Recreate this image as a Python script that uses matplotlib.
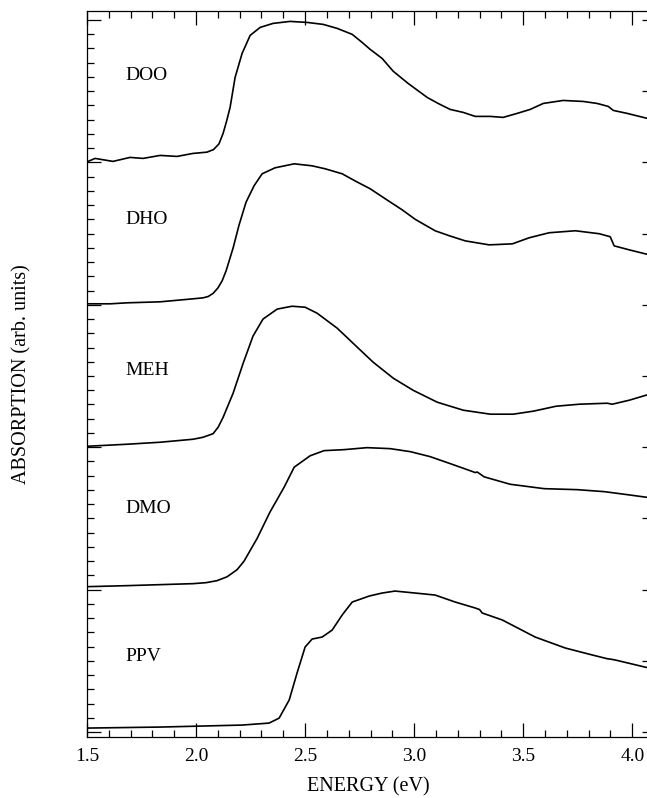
import numpy as np
import matplotlib
matplotlib.use("Agg")
import matplotlib.pyplot as plt
from matplotlib.ticker import MultipleLocator, NullFormatter

plt.rcParams['font.family'] = ['Liberation Serif', 'DejaVu Serif']

# ==========================================
# Data (energy in eV, absorption relative to each panel's baseline)
# ==========================================
doo_e = [1.505, 1.537, 1.619, 1.697, 1.757, 1.835, 1.913, 1.986, 2.050, 2.080,
         2.105, 2.124, 2.140, 2.156, 2.179, 2.211, 2.248, 2.294, 2.353, 2.431,
         2.509, 2.583, 2.647, 2.716, 2.761, 2.798, 2.853, 2.904, 2.972, 3.060,
         3.110, 3.165, 3.225, 3.280, 3.349, 3.408, 3.472, 3.532, 3.592, 3.683,
         3.775, 3.839, 3.890, 3.913, 3.977, 4.069]
doo_a = [0.007, 0.028, 0.007, 0.035, 0.028, 0.049, 0.042, 0.063, 0.072, 0.090,
         0.130, 0.204, 0.290, 0.386, 0.597, 0.765, 0.892, 0.948, 0.976, 0.990,
         0.983, 0.969, 0.941, 0.899, 0.843, 0.794, 0.730, 0.640, 0.555, 0.456,
         0.414, 0.372, 0.351, 0.323, 0.323, 0.316, 0.344, 0.372, 0.414, 0.435,
         0.428, 0.414, 0.393, 0.365, 0.344, 0.309]

dho_e = [1.505, 1.606, 1.684, 1.835, 1.986, 2.032, 2.055, 2.078, 2.101, 2.120,
         2.138, 2.170, 2.197, 2.229, 2.266, 2.303, 2.362, 2.450, 2.532, 2.592,
         2.670, 2.729, 2.798, 2.867, 2.945, 3.005, 3.096, 3.161, 3.234, 3.344,
         3.450, 3.528, 3.619, 3.739, 3.849, 3.899, 3.917, 3.986, 4.078]
dho_a = [0.007, 0.007, 0.014, 0.021, 0.042, 0.049, 0.058, 0.080, 0.120, 0.170,
         0.240, 0.400, 0.560, 0.720, 0.836, 0.920, 0.962, 0.990, 0.976, 0.955,
         0.920, 0.870, 0.815, 0.745, 0.667, 0.600, 0.520, 0.485, 0.449, 0.421,
         0.428, 0.471, 0.506, 0.520, 0.499, 0.478, 0.414, 0.386, 0.351]

meh_e = [1.505, 1.684, 1.835, 1.986, 2.032, 2.078, 2.101, 2.124, 2.170, 2.216,
         2.261, 2.307, 2.372, 2.440, 2.500, 2.555, 2.647, 2.720, 2.812, 2.904,
         2.995, 3.106, 3.225, 3.349, 3.454, 3.546, 3.651, 3.757, 3.885, 3.908,
         3.986, 4.078]
meh_a = [0.007, 0.021, 0.035, 0.056, 0.070, 0.095, 0.140, 0.210, 0.380, 0.590,
         0.780, 0.900, 0.970, 0.990, 0.983, 0.941, 0.836, 0.730, 0.597, 0.485,
         0.400, 0.316, 0.260, 0.232, 0.232, 0.253, 0.288, 0.302, 0.309, 0.302,
         0.330, 0.372]

dmo_e = [1.505, 1.684, 1.835, 1.986, 2.046, 2.096, 2.142, 2.188, 2.220, 2.280,
         2.339, 2.404, 2.450, 2.523, 2.587, 2.679, 2.784, 2.890, 2.982, 3.073,
         3.165, 3.257, 3.280, 3.289, 3.321, 3.440, 3.596, 3.748, 3.872, 3.977,
         4.078]
dmo_a = [0.021, 0.028, 0.035, 0.042, 0.049, 0.063, 0.090, 0.140, 0.200, 0.360,
         0.545, 0.720, 0.860, 0.940, 0.976, 0.983, 0.997, 0.990, 0.969, 0.934,
         0.885, 0.835, 0.822, 0.826, 0.792, 0.740, 0.709, 0.702, 0.688, 0.667,
         0.646]

ppv_e = [1.505, 1.835, 2.211, 2.335, 2.381, 2.427, 2.463, 2.500, 2.532, 2.578,
         2.624, 2.670, 2.716, 2.794, 2.853, 2.912, 3.005, 3.096, 3.188, 3.280,
         3.300, 3.312, 3.404, 3.555, 3.693, 3.817, 3.885, 3.900, 3.922, 4.078]
ppv_a = [0.028, 0.035, 0.049, 0.063, 0.098, 0.225, 0.414, 0.597, 0.653, 0.667,
         0.716, 0.822, 0.913, 0.955, 0.976, 0.990, 0.976, 0.962, 0.913, 0.871,
         0.860, 0.836, 0.787, 0.667, 0.590, 0.541, 0.515, 0.512, 0.506, 0.449]

names = ['DOO', 'DHO', 'MEH', 'DMO', 'PPV']
offsets = [4, 3, 2, 1, 0]
curves = [(doo_e, doo_a), (dho_e, dho_a), (meh_e, meh_a), (dmo_e, dmo_a), (ppv_e, ppv_a)]
label_x = 1.674
label_y = [0.607, 0.596, 0.542, 0.573, 0.527]

# ==========================================
# Plot
# ==========================================
fig = plt.figure(figsize=(6.47, 7.98), dpi=100)
ax = fig.add_axes([0.1345, 0.0764, 0.869, 0.9098])

for (e, a), off, name, ly in zip(curves, offsets, names, label_y):
    ax.plot(e, np.array(a) + off, color='black', lw=1.2)
    ax.text(label_x, off + ly, name, fontsize=14, va='center', ha='left')

ax.set_xlim(1.5, 4.078)
ax.set_ylim(-0.035, 5.063)

ax.xaxis.set_major_locator(MultipleLocator(0.5))
ax.xaxis.set_minor_locator(MultipleLocator(0.1))
ax.yaxis.set_major_locator(MultipleLocator(1.0))
ax.yaxis.set_minor_locator(MultipleLocator(0.1))
ax.yaxis.set_major_formatter(NullFormatter())
ax.xaxis.set_major_formatter(matplotlib.ticker.FormatStrFormatter('%.1f'))

ax.tick_params(which='both', direction='in', top=True, bottom=True, left=True, right=False,
               width=0.9, labelsize=14, pad=8)
ax.tick_params(which='major', length=10)
ax.tick_params(which='minor', length=5)

sec = ax.secondary_yaxis('right')
sec.yaxis.set_major_locator(MultipleLocator(0.5))
sec.yaxis.set_major_formatter(NullFormatter())
sec.tick_params(direction='in', length=5, width=0.9)
sec.spines['right'].set_linewidth(0.8)

for s in ax.spines.values():
    s.set_linewidth(0.9)

ax.set_xlabel('ENERGY (eV)', fontsize=14.5, labelpad=9)
ax.set_ylabel('ABSORPTION (arb. units)', fontsize=14.5, labelpad=32)

fig.savefig('out.png', dpi=100)
